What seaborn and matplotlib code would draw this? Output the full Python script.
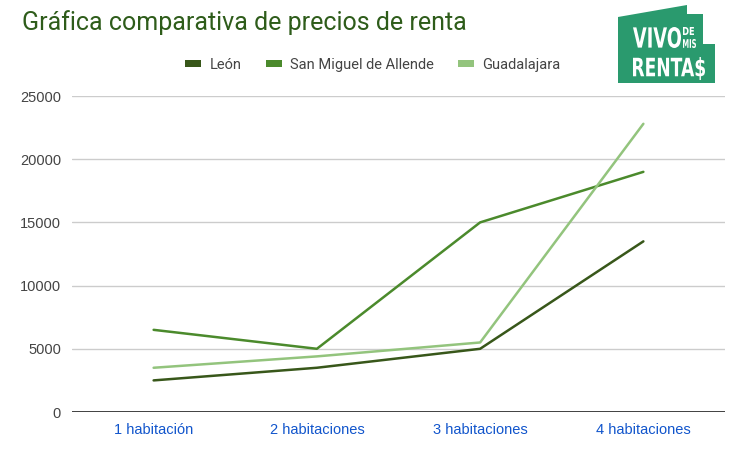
import numpy as np
import pandas as pd
import seaborn as sns
import matplotlib
matplotlib.use("Agg")
import matplotlib.pyplot as plt
from matplotlib.patches import Polygon, Patch, PathPatch
from matplotlib.textpath import TextPath
from matplotlib.font_manager import FontProperties
from matplotlib.transforms import Affine2D

categories = ["1 habitación", "2 habitaciones", "3 habitaciones", "4 habitaciones"]
leon = [2500, 3500, 5000, 13500]
san_miguel = [6500, 5000, 15000, 19000]
guadalajara = [3500, 4400, 5500, 22800]
series_names = ["León", "San Miguel de Allende", "Guadalajara"]
y_ticks = [0, 5000, 10000, 15000, 20000, 25000]
colors = ["#38571a", "#4b8a2c", "#93c47d"]

rows = []
for name, vals in zip(series_names, [leon, san_miguel, guadalajara]):
    for c, v in zip(categories, vals):
        rows.append({"Tipo": c, "Precio": v, "Ciudad": name})
df = pd.DataFrame(rows)

sns.set_theme(style="white")
plt.rcParams["font.family"] = ["Liberation Sans", "DejaVu Sans"]

W, H = 743, 451
fig = plt.figure(figsize=(W / 100, H / 100), dpi=100)
ax = fig.add_axes([72 / W, 1 - 412 / H, (725 - 72) / W, (412 - 96) / H])

palette = dict(zip(series_names, colors))
sns.lineplot(data=df, x="Tipo", y="Precio", hue="Ciudad", palette=palette,
             linewidth=1.8, ax=ax, legend=False, sort=False)

ax.set_xlim(-0.5, len(categories) - 0.5)
ax.set_ylim(0, 25000)
ax.set_yticks(y_ticks)
ax.set_yticklabels([str(t) for t in y_ticks])
ax.set_xlabel("")
ax.set_ylabel("")
for s in ax.spines.values():
    s.set_visible(False)
ax.grid(axis="y", color="#cccccc", linewidth=1.0)
ax.grid(axis="x", visible=False)
ax.set_axisbelow(True)
ax.axhline(0, color="#333333", linewidth=1.3, zorder=1)
ax.tick_params(axis="y", length=0, pad=8, labelsize=10.5, labelcolor="#444444")
ax.tick_params(axis="x", length=0, pad=8, labelsize=10.5, labelcolor="#1155cc")

# Title
fig.text(22 / W, 1 - 23 / H, "Gráfica comparativa de precios de renta",
         fontsize=18, color="#2e5c1a", ha="left", va="center",
         family=["Roboto", "DejaVu Sans"])

# Legend
handles = [Patch(facecolor=c, edgecolor="none") for c in colors]
fig.legend(handles, series_names, loc="center", bbox_to_anchor=(373 / W, 1 - 65 / H),
           ncol=3, frameon=False, fontsize=10.5, labelcolor="#444444",
           handlelength=1.1, handleheight=0.35, handletextpad=0.6, columnspacing=1.6,
           prop={"family": ["Roboto", "DejaVu Sans"], "size": 10.5})

# Logo overlay
lax = fig.add_axes([0, 0, 1, 1], zorder=5)
lax.set_xlim(0, W)
lax.set_ylim(H, 0)
lax.axis("off")
green = "#2a9a6e"
house = [(618, 17), (687, 5), (687, 14), (703, 14), (703, 44), (715, 44),
         (715, 83), (618, 83)]
lax.add_patch(Polygon(house, closed=True, facecolor=green, edgecolor="none"))

fp = FontProperties(family="DejaVu Sans", weight="bold")


def fit_text(s, x0, y0, x1, y1):
    tp = TextPath((0, 0), s, size=1, prop=fp)
    ext = tp.get_extents()
    sx = (x1 - x0) / ext.width
    sy = (y1 - y0) / ext.height
    tr = Affine2D().translate(-ext.x0, -ext.y1).scale(sx, -sy).translate(x0, y0)
    lax.add_patch(PathPatch(tr.transform_path(tp), facecolor="white", edgecolor="none"))


fit_text("VIVO", 633, 27, 681, 48)
fit_text("DE", 683, 27, 694, 35)
fit_text("MIS", 683, 39, 696, 48)
fit_text("RENTA$", 633, 57, 705, 80)

fig.savefig("out.png", dpi=100)
